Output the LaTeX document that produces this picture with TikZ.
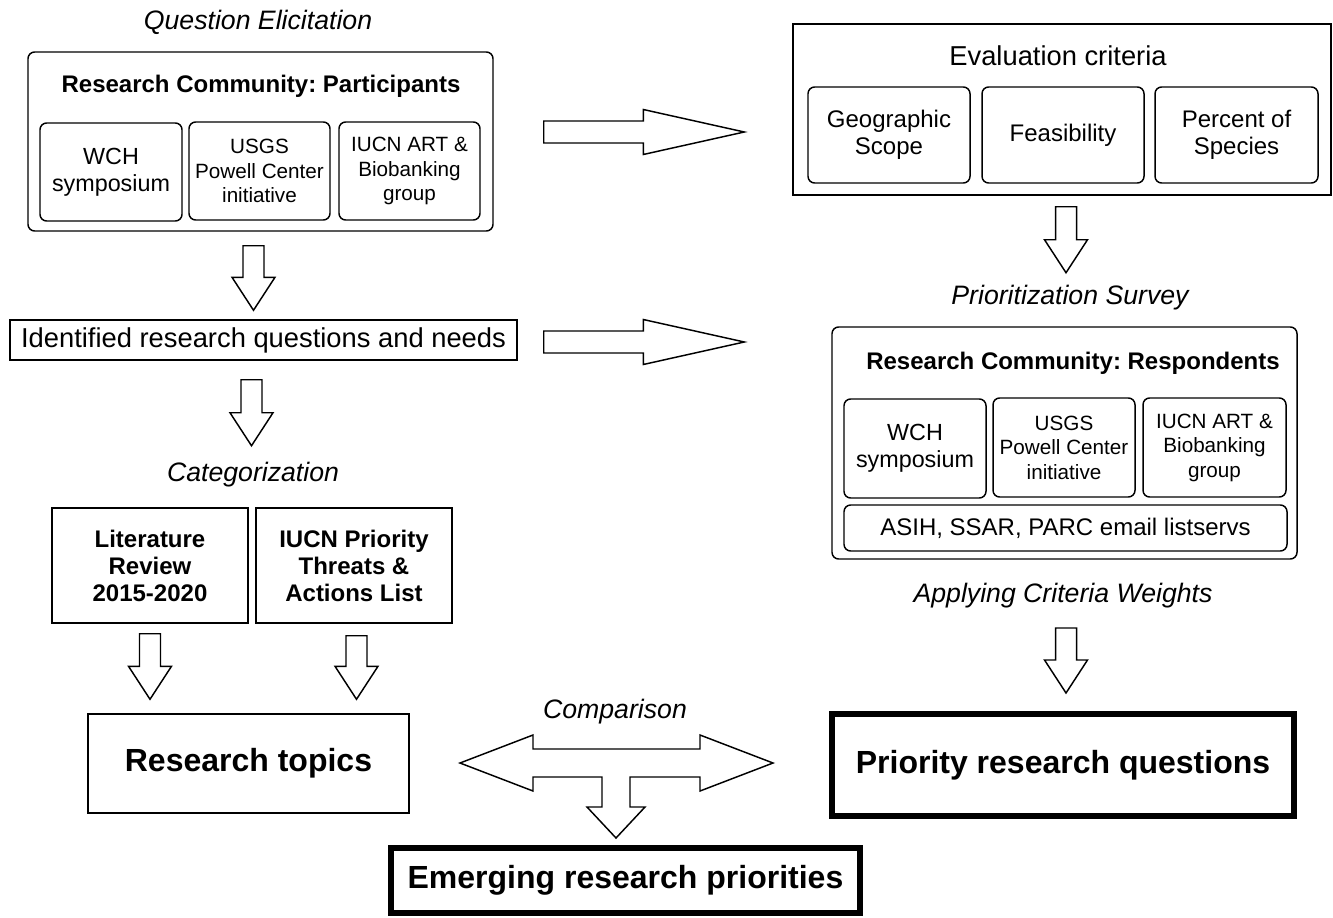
\documentclass[tikz,border=0pt]{standalone}
\usepackage{fontspec}
\setmainfont{Liberation Sans}
\usetikzlibrary{calc}
\frenchspacing

\tikzset{
  box/.style={draw, line width=1.1pt, align=center, inner sep=0pt},
  rbox/.style={box, rounded corners=5pt},
  heavy/.style={draw, line width=4.5pt, align=center, font=\bfseries\fontsize{24}{28}\selectfont},
  stage/.style={font=\itshape\fontsize{20}{24}\selectfont},
  blk/.style={draw, line width=1.1pt, fill=white},
  dims/.style 2 args={minimum width=#1*0.75pt, minimum height=#2*0.75pt},
  small/.style={font=\fontsize{15.5}{18.4}\selectfont},
  mid/.style={font=\fontsize{18}{20.25}\selectfont},
  midb/.style={font=\bfseries\fontsize{18}{20.25}\selectfont},
}

% hollow block arrows, start and tip given as named coordinates
\newcommand{\blkdown}[2]{\draw[blk] ($(#1)+(-10.5,0)$) -- ($(#2)+(-10.5,-33)$) -- ($(#2)+(-21.5,-33)$) -- (#2) -- ($(#2)+(21.5,-33)$) -- ($(#2)+(10.5,-33)$) -- ($(#1)+(10.5,0)$) -- cycle;}
\newcommand{\blkright}[2]{\draw[blk] ($(#1)+(0,-11)$) -- ($(#2)+(-101,-11)$) -- ($(#2)+(-101,-22.5)$) -- (#2) -- ($(#2)+(-101,22.5)$) -- ($(#2)+(-101,11)$) -- ($(#1)+(0,11)$) -- cycle;}

\begin{document}
\begin{tikzpicture}[x=0.75pt, y=-0.75pt]
\useasboundingbox (0,0) rectangle (1333,917);

% left column
\node[stage] (qel) at (258,22) {Question Elicitation};
\node[rbox, dims={465}{179}] (part) at (260.5,141.5) {};
\node[midb] (ptitle) at (261,86) {Research Community: Participants};
\node[rbox, dims={142}{98}, font=\fontsize{17.5}{20}\selectfont] (pwch) at (111,172) {WCH\\symposium};
\node[rbox, dims={141}{98}, small] (pusgs) at (259.5,171) {USGS\\Powell Center\\initiative};
\node[rbox, dims={141}{98}, small] (piucn) at (409.5,171) {IUCN ART \&\\Biobanking\\group};

\node[box, dims={507}{40}, font=\fontsize{20.5}{24}\selectfont] (idq) at (263.5,340) {Identified research questions and needs};

\node[stage] (cat) at (253,475) {Categorization};
\node[box, dims={196}{115}, midb] (lit) at (150,565.5) {Literature\\Review\\2015-2020};
\node[box, dims={196}{115}, midb] (ipt) at (354,565.5) {IUCN Priority\\Threats \&\\Actions List};
\node[box, dims={321}{99}, font=\bfseries\fontsize{24}{28}\selectfont] (topics) at (248.5,763.5) {Research topics};

% right column
\node[box, dims={538}{171}] (eval) at (1062,109.5) {};
\node[font=\fontsize{20.5}{24}\selectfont] (etitle) at (1058,56) {Evaluation criteria};
\node[rbox, dims={162}{96}, mid] (geo) at (889,135) {Geographic\\Scope};
\node[rbox, dims={162}{96}, mid] (feas) at (1063,135) {Feasibility};
\node[rbox, dims={163}{96}, mid] (pct) at (1236.5,135) {Percent of\\Species};

\node[stage] (psv) at (1070,298) {Prioritization Survey};
\node[rbox, dims={465}{232}] (surv) at (1064.5,443) {};
\node[midb] (stitle) at (1073,363) {Research Community: Respondents};
\node[rbox, dims={142}{99}, font=\fontsize{17.5}{20}\selectfont] (swch) at (915,448.5) {WCH\\symposium};
\node[rbox, dims={142}{99}, small] (susgs) at (1064,447.5) {USGS\\Powell Center\\initiative};
\node[rbox, dims={143}{99}, small] (siucn) at (1214.5,447.5) {IUCN ART \&\\Biobanking\\group};
\node[rbox, dims={443}{46}, mid] (asih) at (1065.5,528) {ASIH, SSAR, PARC email listservs};

\node[stage] (acw) at (1063,596) {Applying Criteria Weights};
\node[heavy, dims={462}{102}] (prio) at (1063,765) {Priority research questions};

% bottom
\node[stage] (cmp) at (615,712) {Comparison};
\node[heavy, dims={469}{65}] (emerg) at (625.5,880.5) {Emerging research priorities};

% block arrows
\coordinate (a1) at ($(part.south)+(-7,14)$);
\coordinate (b1) at ($(a1 |- idq.north)+(0,-9)$);
\blkdown{a1}{b1}
\coordinate (a2) at ($(idq.south)+(-12,19)$);
\coordinate (b2) at ($(a2)+(0,66)$);
\blkdown{a2}{b2}
\coordinate (a3) at ($(lit.south)+(0,10)$);
\coordinate (b3) at ($(a3 |- topics.north)+(0,-14)$);
\blkdown{a3}{b3}
\coordinate (a4) at ($(ipt.south)+(2.5,12)$);
\coordinate (b4) at ($(a4 |- topics.north)+(0,-14)$);
\blkdown{a4}{b4}
\coordinate (a5) at ($(eval.south)+(4,11)$);
\coordinate (b5) at ($(a5)+(0,66)$);
\blkdown{a5}{b5}
\coordinate (b6) at ($(prio.north)+(3,-18)$);
\coordinate (a6) at ($(b6)+(0,-65)$);
\blkdown{a6}{b6}

\coordinate (h1a) at ($(part.east)+(50,-9.5)$);
\coordinate (h1b) at ($(h1a -| eval.west)+(-48,0)$);
\blkright{h1a}{h1b}
\coordinate (h2a) at ($(idq.east)+(26,2)$);
\coordinate (h2b) at ($(h2a -| surv.west)+(-87,0)$);
\blkright{h2a}{h2b}

% comparison arrow
\coordinate (cmpc) at (616,763);
\draw[blk, shift={(cmpc)}] (-156,0) -- (-83,-28) -- (-83,-14) -- (84,-14) -- (84,-28) -- (157,0)
  -- (84,28) -- (84,14) -- (14,14) -- (14,44) -- (29,44) -- (0,75) -- (-29,44) -- (-14,44)
  -- (-14,14) -- (-83,14) -- (-83,28) -- cycle;
\end{tikzpicture}
\end{document}
